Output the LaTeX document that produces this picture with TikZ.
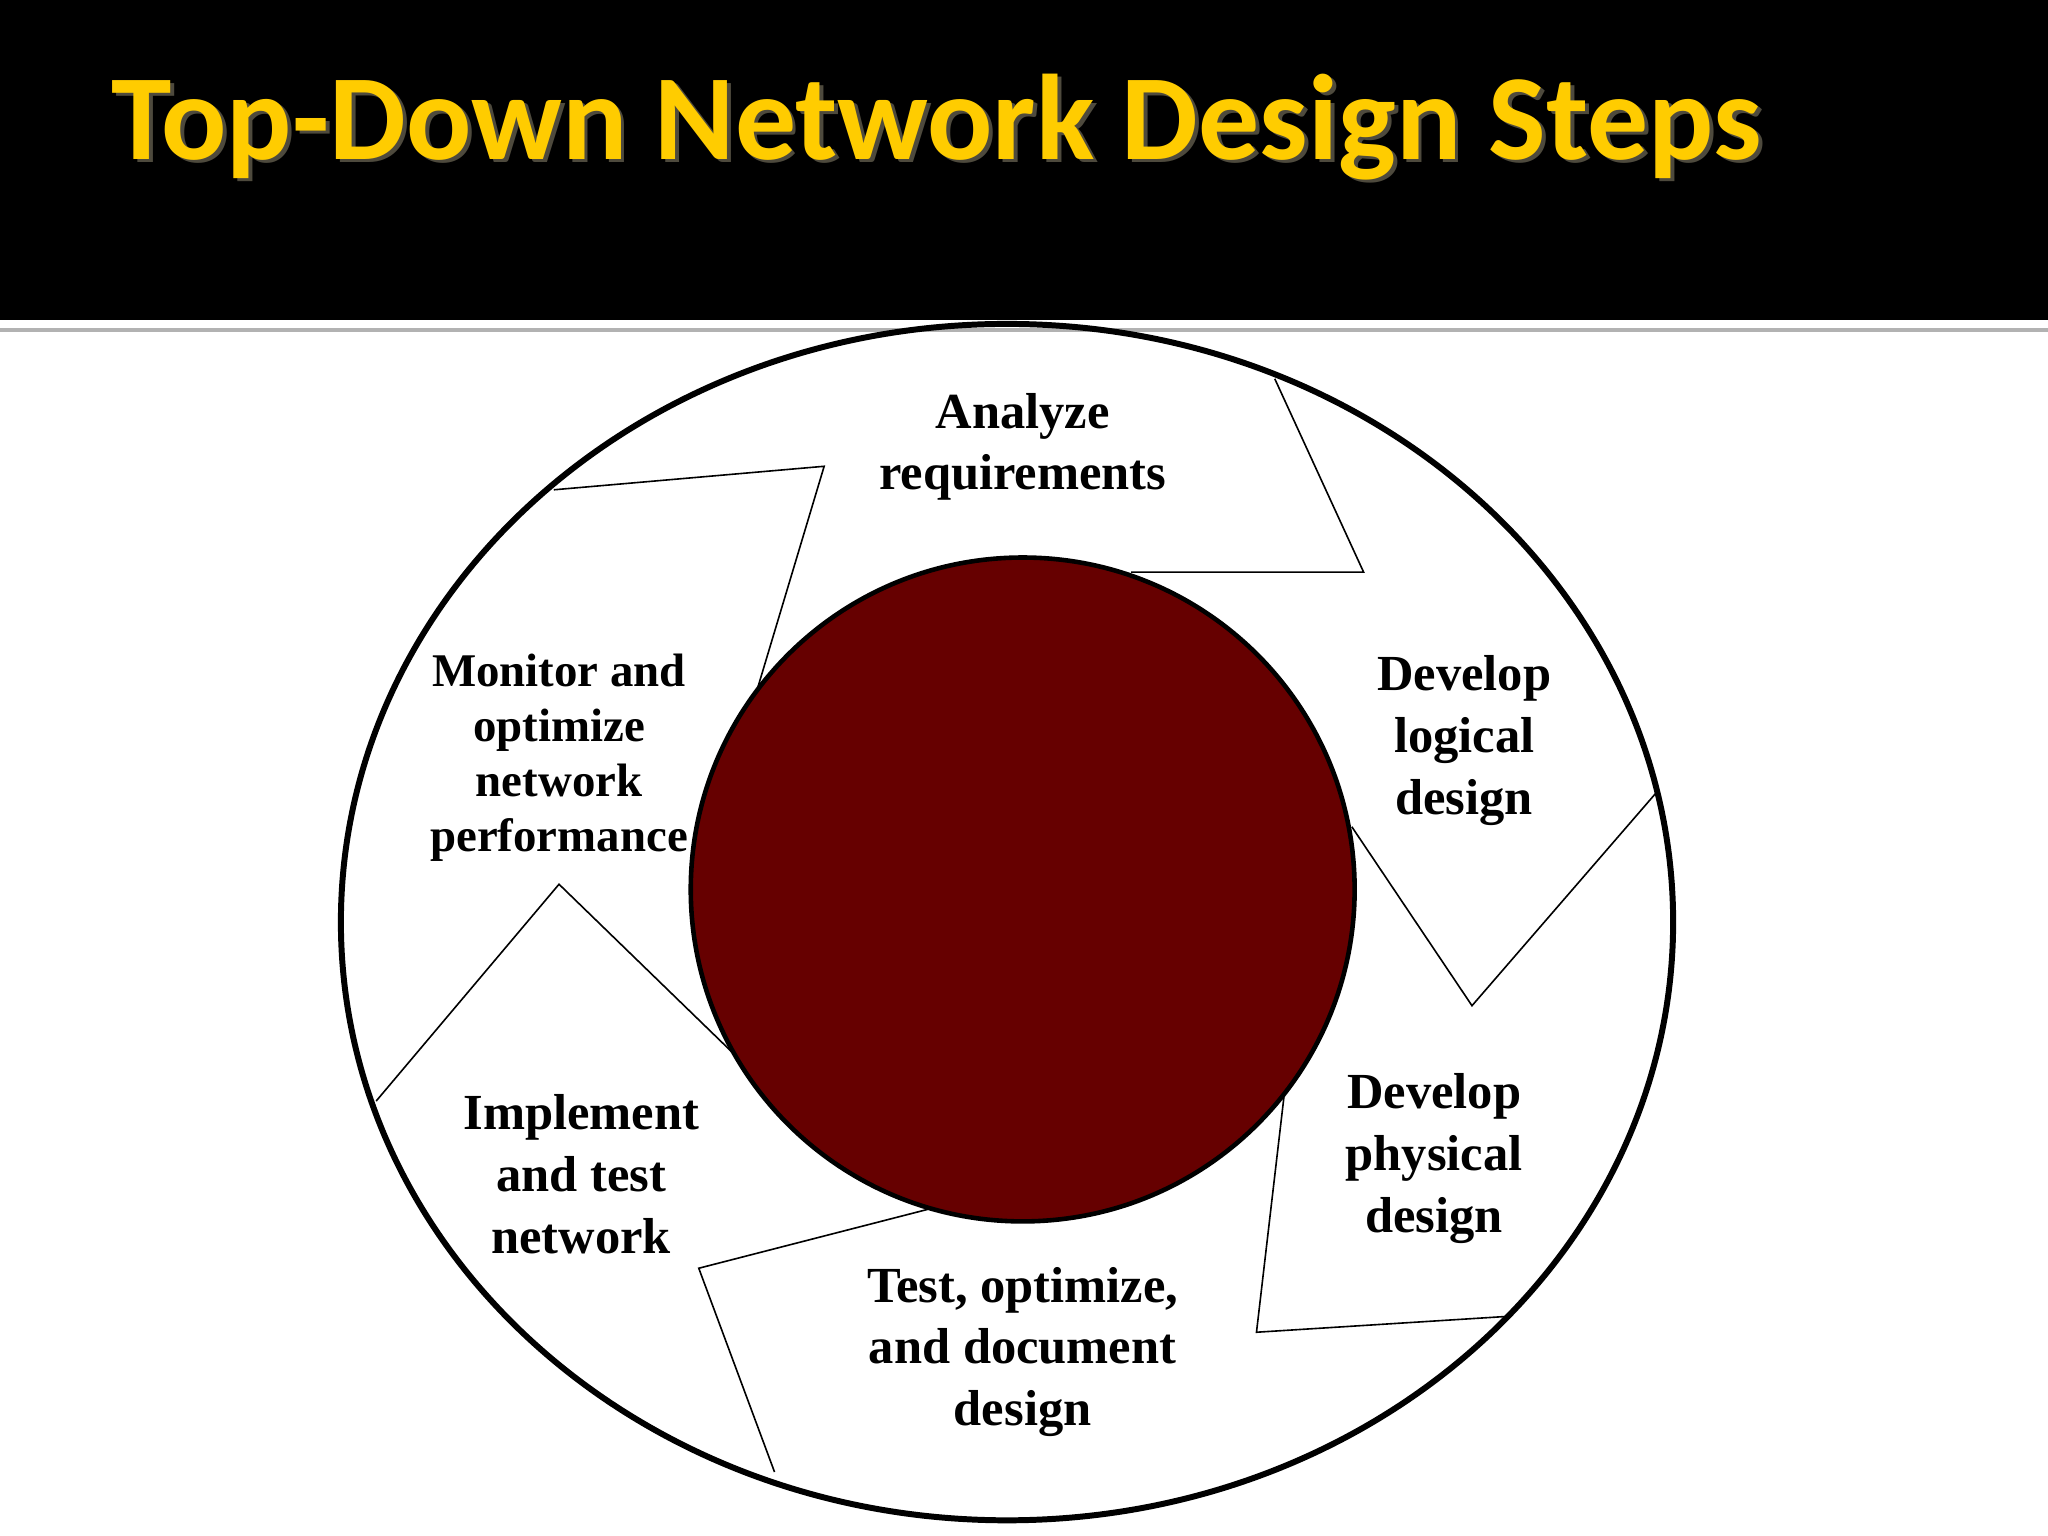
\documentclass[tikz,border=0pt]{standalone}
\usepackage{fontspec}
\setmainfont{Liberation Serif}
\newfontfamily\titlefont{Carlito}
\begin{document}
\begin{tikzpicture}[x=0.01cm,y=-0.01cm,
  lbl/.style={font=\bfseries\fontsize{11}{13.4}\selectfont,align=center},
  thin/.style={line width=0.35pt}]
\useasboundingbox (0,0) rectangle (1568,1176);
\fill[black] (0,0) rectangle (1568,245);
\fill[gray!60] (0,251) rectangle (1568,254);
\node[font=\titlefont\bfseries\fontsize{26.5}{30}\selectfont,text=black!80!yellow,anchor=west] at (76,100) {Top-Down Network Design Steps};
\node (title) [font=\titlefont\bfseries\fontsize{26.5}{30}\selectfont,text={rgb,255:red,255;green,204;blue,0},anchor=west] at (73,97) {Top-Down Network Design Steps};
\draw[line width=1.3pt] (771,706) ellipse [x radius=510, y radius=458];
\node (core) [circle,draw,line width=1pt,fill={rgb,255:red,102;green,0;blue,0},minimum size=5.08cm,inner sep=0] at (783,681) {};
\draw[thin] (424,375) -- (631,357) -- (580,527);
\draw[thin] (976,290) -- (1044,438) -- (866,438);
\draw[thin] (1268,607) -- (1127,770) -- (1035,633);
\draw[thin] (1152,1008) -- (962,1020) -- (983,840);
\draw[thin] (710,926) -- (535,971) -- (593,1127);
\draw[thin] (288,843) -- (428,677) -- (563,808);
\node (a) [lbl] at (783,342) {Analyze\\requirements};
\node (b) [lbl] at (1121,567) {Develop\\logical\\design};
\node (c) [lbl] at (1098,887) {Develop\\physical\\design};
\node (d) [lbl] at (783,1035) {Test, optimize,\\and document\\design};
\node (e) [lbl] at (445,899) {Implement\\and test\\network};
\node (f) [lbl,font=\bfseries\fontsize{10.2}{12}\selectfont] at (428,580) {Monitor and\\optimize\\network\\performance};
\end{tikzpicture}
\end{document}
